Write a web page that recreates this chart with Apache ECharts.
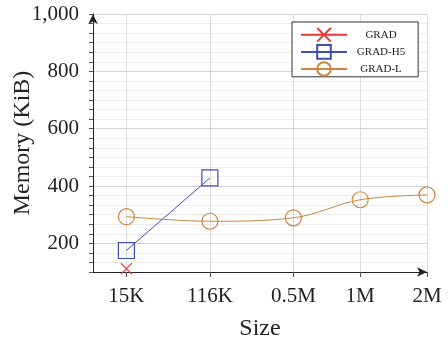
<!DOCTYPE html>
<html><head><meta charset="utf-8">
<script src="https://cdn.jsdelivr.net/npm/echarts@6/dist/echarts.min.js"></script>
<style>html,body{margin:0;padding:0;background:#fff}#c{width:448px;height:342px}</style>
</head><body><div id="c"></div>
<script>
const categories = ['15K', '116K', '0.5M', '1M', '2M'];
const xPositions = [0, 1, 2, 2.8, 3.6];
const gradValues = [112, null, null, null, null];
const gradH5Values = [175, 428, null, null, null];
const gradLValues = [293, 277, 289, 352, 369];
const yTicks = [200, 400, 600, 800, 1000];
const yMinorTicks = [];
for (let k = 0; k <= 27; k++) yMinorTicks.push(100 + k * 100 / 3);

const RED = '#e23b3b', BLUE = '#3d4db8', ORANGE = '#cd853f';
const FONT = 'Liberation Serif';

function pts(vals) {
  const out = [];
  vals.forEach((v, i) => { if (v != null) out.push([xPositions[i], v]); });
  return out;
}

const chart = echarts.init(document.getElementById('c'));
chart.setOption({
  animation: false,
  backgroundColor: '#fff',
  textStyle: { fontFamily: FONT, color: '#222' },
  grid: { left: 93, right: 21, top: 14, bottom: 70, containLabel: false, outerBoundsMode: 'none' },
  legend: {
    left: 292, top: 22, orient: 'vertical', z: 10,
    itemWidth: 46, itemHeight: 17, itemGap: 1.5,
    padding: [5, 13, 0, 8],
    borderColor: '#333', borderWidth: 1, backgroundColor: '#fff',
    formatter: '{a|{name}}',
    textStyle: { fontFamily: FONT, fontSize: 11, color: '#222',
      rich: { a: { width: 58, align: 'center', fontFamily: FONT, fontSize: 11 } } },
    data: ['GRAD', 'GRAD-H5', 'GRAD-L']
  },
  xAxis: {
    type: 'value', min: -0.4, max: 3.6,
    name: 'Size', nameLocation: 'middle', nameGap: 45, nameMoveOverlap: false,
    nameTextStyle: { fontFamily: FONT, fontSize: 24, color: '#222' },
    axisLine: { show: true, onZero: false, symbol: ['none', 'arrow'], symbolSize: [7, 10], lineStyle: { color: '#222', width: 1 } },
    axisTick: { show: true, length: 5, customValues: xPositions, lineStyle: { color: '#555' } },
    axisLabel: { customValues: xPositions, margin: 14, fontFamily: FONT, fontSize: 21, color: '#222',
      formatter: v => { const i = xPositions.findIndex(p => Math.abs(p - v) < 1e-6); return i >= 0 ? categories[i] : ''; } },
    splitLine: { show: true, lineStyle: { color: '#dcdcdc', width: 1 } }
  },
  yAxis: {
    type: 'value', min: 100, max: 1000,
    name: 'Memory (KiB)', nameLocation: 'middle', nameGap: 58, nameMoveOverlap: false,
    nameTextStyle: { fontFamily: FONT, fontSize: 24, color: '#222' },
    axisLine: { show: true, onZero: false, symbol: ['none', 'arrow'], symbolSize: [7, 10], lineStyle: { color: '#222', width: 1 } },
    axisTick: { show: true, length: 4, customValues: yMinorTicks, lineStyle: { color: '#555' } },
    axisLabel: { customValues: yTicks, margin: 14, fontFamily: FONT, fontSize: 21, color: '#222',
      formatter: v => Math.round(v).toLocaleString('en-US') },
    splitLine: { show: true, lineStyle: { color: '#ececec', width: 1 } }
  },
  series: [
    {
      name: 'major-grid', type: 'line', data: [], silent: true, z: 0,
      markLine: { silent: true, z: 0, symbol: ['none', 'none'], label: { show: false },
        lineStyle: { color: '#d6d6d6', type: 'solid', width: 1 },
        data: yTicks.map(v => ({ yAxis: v })) }
    },
    {
      name: 'GRAD', type: 'line', data: pts(gradValues), z: 3,
      symbol: 'path://M0,0L10,10M10,0L0,10', symbolSize: 11,
      lineStyle: { color: RED, width: 1 },
      itemStyle: { color: 'rgba(0,0,0,0)', borderColor: RED, borderWidth: 1.2 }
    },
    {
      name: 'GRAD-H5', type: 'line', data: pts(gradH5Values), z: 3,
      symbol: 'rect', symbolSize: 16,
      lineStyle: { color: BLUE, width: 1 },
      itemStyle: { color: 'rgba(0,0,0,0)', borderColor: BLUE, borderWidth: 1.2 }
    },
    {
      name: 'GRAD-L', type: 'line', data: pts(gradLValues), z: 3, smooth: 0.35,
      symbol: 'circle', symbolSize: 16,
      lineStyle: { color: ORANGE, width: 1 },
      itemStyle: { color: 'rgba(0,0,0,0)', borderColor: ORANGE, borderWidth: 1.2 }
    }
  ]
});
</script></body></html>
